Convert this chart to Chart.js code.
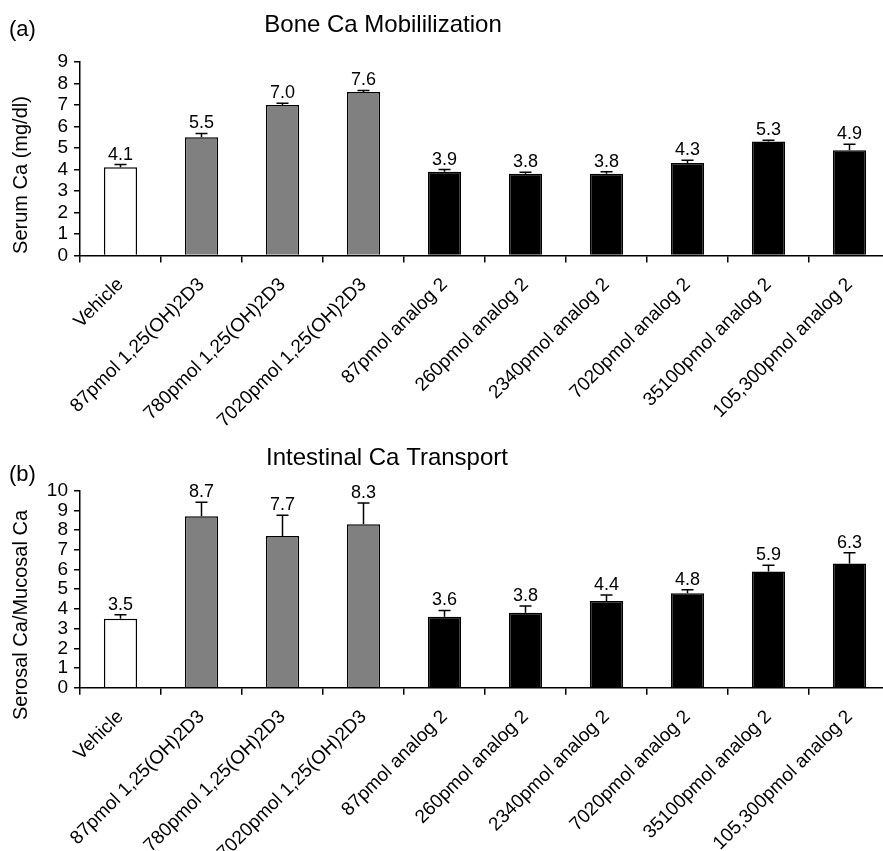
<!DOCTYPE html>
<html>
<head>
<meta charset="utf-8">
<script src="https://cdn.jsdelivr.net/npm/chart.js@4"></script>
<style>
    body { margin: 0; background: #fff; overflow: hidden; }
    #panelA { position: absolute; left: 0; top: 0; width: 890px; height: 440px; }
    #panelB { position: absolute; left: 0; top: 440px; width: 890px; height: 411px; }
</style>
</head>
<body>
<div id="panelA"><canvas id="chartA"></canvas></div>
<div id="panelB"><canvas id="chartB"></canvas></div>
<script>
// Kategorien (gleich fuer beide Panels)
const categories = [
    "Vehicle",
    "87pmol 1,25(OH)2D3",
    "780pmol 1,25(OH)2D3",
    "7020pmol 1,25(OH)2D3",
    "87pmol analog 2",
    "260pmol analog 2",
    "2340pmol analog 2",
    "7020pmol analog 2",
    "35100pmol analog 2",
    "105,300pmol analog 2"
];
// Gruppe je Balken: 0 = Vehicle, 1 = 1,25(OH)2D3, 2 = analog 2
const groups = [0, 1, 1, 1, 2, 2, 2, 2, 2, 2];

// (a) Bone Ca Mobilization
const boneValues = [4.1, 5.5, 7.0, 7.6, 3.9, 3.8, 3.8, 4.3, 5.3, 4.9];
const boneErrors = [0.13, 0.18, 0.08, 0.08, 0.1, 0.07, 0.1, 0.13, 0.06, 0.27];
const boneTicks = [0, 9];

// (b) Intestinal Ca Transport
const transportValues = [3.5, 8.7, 7.7, 8.3, 3.6, 3.8, 4.4, 4.8, 5.9, 6.3];
const transportErrors = [0.2, 0.72, 1.05, 1.08, 0.32, 0.35, 0.3, 0.17, 0.32, 0.55];
const transportTicks = [0, 10];

const groupColors = ["#ffffff", "#808080", "#000000"];
const FONT = "'Liberation Sans', Arial, sans-serif";

/*
Zeichnet Fehlerbalken (nur nach oben) und die Werte ueber den Balken.
 */
const errorBarPlugin = {
    id: "errorBars",
    afterDatasetsDraw(chart, args, opts) {
        const ctx = chart.ctx;
        const yScale = chart.scales.y;
        const meta = chart.getDatasetMeta(0);
        const values = chart.data.datasets[0].data;
        ctx.save();
        ctx.strokeStyle = "#000";
        ctx.lineWidth = 1.5;
        ctx.fillStyle = "#000";
        ctx.font = "18px " + FONT;
        ctx.textAlign = "center";
        ctx.textBaseline = "alphabetic";
        meta.data.forEach((bar, i) => {
            const top = yScale.getPixelForValue(values[i]);
            const errTop = yScale.getPixelForValue(values[i] + opts.errors[i]);
            ctx.beginPath();
            ctx.moveTo(bar.x, top);
            ctx.lineTo(bar.x, errTop);
            ctx.moveTo(bar.x - 6, errTop);
            ctx.lineTo(bar.x + 6, errTop);
            ctx.stroke();
            ctx.fillText(values[i].toFixed(1), bar.x, errTop - 5);
        });
        ctx.restore();
    }
};

/*
Panel-Buchstabe, Titel und y-Achsentitel.
 */
const decoPlugin = {
    id: "deco",
    afterDraw(chart, args, opts) {
        const ctx = chart.ctx;
        ctx.save();
        ctx.fillStyle = "#000";
        ctx.textBaseline = "alphabetic";
        ctx.font = "22px " + FONT;
        ctx.textAlign = "left";
        ctx.fillText(opts.letter, 9, opts.letterY);
        ctx.font = "24px " + FONT;
        ctx.textAlign = "center";
        ctx.fillText(opts.title, opts.titleX, opts.titleY);
        ctx.font = "20px " + FONT;
        ctx.translate(opts.yTitleX, opts.yTitleY);
        ctx.rotate(-Math.PI / 2);
        ctx.textBaseline = "middle";
        ctx.fillText(opts.yTitle, 0, 0);
        ctx.restore();
    }
};

function makeChart(canvasId, values, errors, ticks, topPad, xHeight, deco) {
    const ctx = document.getElementById(canvasId);
    return new Chart(ctx, {
        type: "bar",
        data: {
            labels: categories,
            datasets: [{
                data: values,
                backgroundColor: groups.map((g) => groupColors[g]),
                borderColor: "#000",
                borderWidth: 1.5,
                categoryPercentage: 1.0,
                barPercentage: 0.41
            }]
        },
        options: {
            responsive: true,
            maintainAspectRatio: false,
            animation: false,
            events: [],
            layout: { padding: { top: topPad, left: 0, right: 0, bottom: 0 } },
            plugins: {
                legend: { display: false },
                tooltip: { enabled: false },
                errorBars: { errors: errors },
                deco: deco
            },
            scales: {
                x: {
                    grid: { drawOnChartArea: false, color: "#000", tickLength: 7, lineWidth: 1.5 },
                    border: { color: "#000", width: 1.5 },
                    ticks: {
                        autoSkip: false,
                        minRotation: 45,
                        maxRotation: 45,
                        padding: 11,
                        color: "#000",
                        font: { family: FONT, size: 19 }
                    },
                    afterFit: (scale) => { scale.height = xHeight; }
                },
                y: {
                    min: ticks[0],
                    max: ticks[1],
                    grid: { drawOnChartArea: false, color: "#000", tickLength: 6, lineWidth: 1.5 },
                    border: { color: "#000", width: 1.5 },
                    ticks: {
                        stepSize: 1,
                        autoSkip: false,
                        padding: 6,
                        color: "#000",
                        font: { family: FONT, size: 19 }
                    },
                    afterFit: (scale) => { scale.width = 80; }
                }
            }
        },
        plugins: [errorBarPlugin, decoPlugin]
    });
}

makeChart("chartA", boneValues, boneErrors, boneTicks, 62, 184.5, {
    letter: "(a)", letterY: 36,
    title: "Bone Ca Mobililization", titleX: 383, titleY: 32,
    yTitle: "Serum Ca (mg/dl)", yTitleX: 21, yTitleY: 175
});

makeChart("chartB", transportValues, transportErrors, transportTicks, 50.7, 163.3, {
    letter: "(b)", letterY: 41,
    title: "Intestinal Ca Transport", titleX: 387, titleY: 25,
    yTitle: "Serosal Ca/Mucosal Ca", yTitleX: 21, yTitleY: 175
});
</script>
</body>
</html>
